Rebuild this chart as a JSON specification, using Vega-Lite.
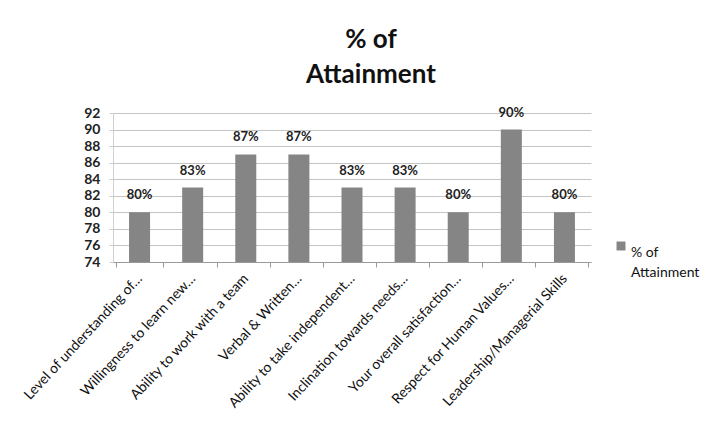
{
  "$schema": "https://vega.github.io/schema/vega-lite/v6.json",
  "autosize": "none",
  "width": 478,
  "height": 149,
  "padding": {"left": 113, "top": 113, "right": 117, "bottom": 166},
  "background": "white",
  "title": {
    "text": ["% of", "Attainment"],
    "fontSize": 26,
    "font": "Lato",
    "fontWeight": "bold",
    "color": "#111111",
    "lineHeight": 35,
    "anchor": "middle",
    "dx": 19,
    "offset": 18
  },
  "data": {
    "values": [
      {"item": "Level of understanding of…", "value": 80, "series": "% of Attainment"},
      {"item": "Willingness to learn new…", "value": 83, "series": "% of Attainment"},
      {"item": "Ability to work with a team", "value": 87, "series": "% of Attainment"},
      {"item": "Verbal & Written…", "value": 87, "series": "% of Attainment"},
      {"item": "Ability to take independent…", "value": 83, "series": "% of Attainment"},
      {"item": "Inclination towards needs…", "value": 83, "series": "% of Attainment"},
      {"item": "Your overall satisfaction…", "value": 80, "series": "% of Attainment"},
      {"item": "Respect for Human Values…", "value": 90, "series": "% of Attainment"},
      {"item": "Leadership/Managerial Skills", "value": 80, "series": "% of Attainment"}
    ]
  },
  "encoding": {
    "x": {
      "field": "item",
      "type": "nominal",
      "sort": null,
      "title": null,
      "axis": {
        "labelAngle": -47,
        "labelAlign": "right",
        "labelBaseline": "middle",
        "labelFont": "Lato",
        "labelFontSize": 14,
        "labelColor": "#111111",
        "labelLimit": 300,
        "labelPadding": 9,
        "domainColor": "#9a9a9a",
        "tickColor": "#9a9a9a",
        "tickBand": "extent",
        "tickSize": 5
      }
    },
    "y": {
      "field": "value",
      "type": "quantitative",
      "scale": {"domain": [74, 92], "zero": false, "nice": false},
      "title": null,
      "axis": {
        "values": [74, 76, 78, 80, 82, 84, 86, 88, 90, 92],
        "labelFont": "Lato",
        "labelFontSize": 14,
        "labelFontWeight": "bold",
        "labelColor": "#222222",
        "domainColor": "#cfcfcf",
        "tickColor": "#cfcfcf",
        "tickSize": 4,
        "labelPadding": 9,
        "gridColor": "#c4c4c4",
        "gridWidth": 1.2
      }
    }
  },
  "layer": [
    {
      "mark": {"type": "bar", "size": 21, "clip": true},
      "encoding": {
        "color": {
          "field": "series",
          "type": "nominal",
          "scale": {"range": ["#858585"]},
          "legend": {
            "title": null,
            "orient": "none",
            "legendX": 501,
            "legendY": 126,
            "symbolType": "square",
            "symbolSize": 80,
            "symbolOpacity": 1,
            "labelFont": "Lato",
            "labelFontSize": 14,
            "labelColor": "#111111",
            "labelExpr": "['% of', 'Attainment']",
            "labelBaseline": "top",
            "labelOffset": 3
          }
        }
      }
    },
    {
      "transform": [{"calculate": "format(datum.value, '.0f') + '%'", "as": "label"}],
      "mark": {"type": "text", "dy": -17, "font": "Lato", "fontSize": 13, "fontWeight": "bold", "color": "#222222"},
      "encoding": {
        "text": {"field": "label", "type": "nominal"},
        "color": {"value": "#222222"}
      }
    }
  ],
  "config": {
    "view": {"stroke": null},
    "style": {"guide-label": {"lineHeight": 20}}
  }
}
